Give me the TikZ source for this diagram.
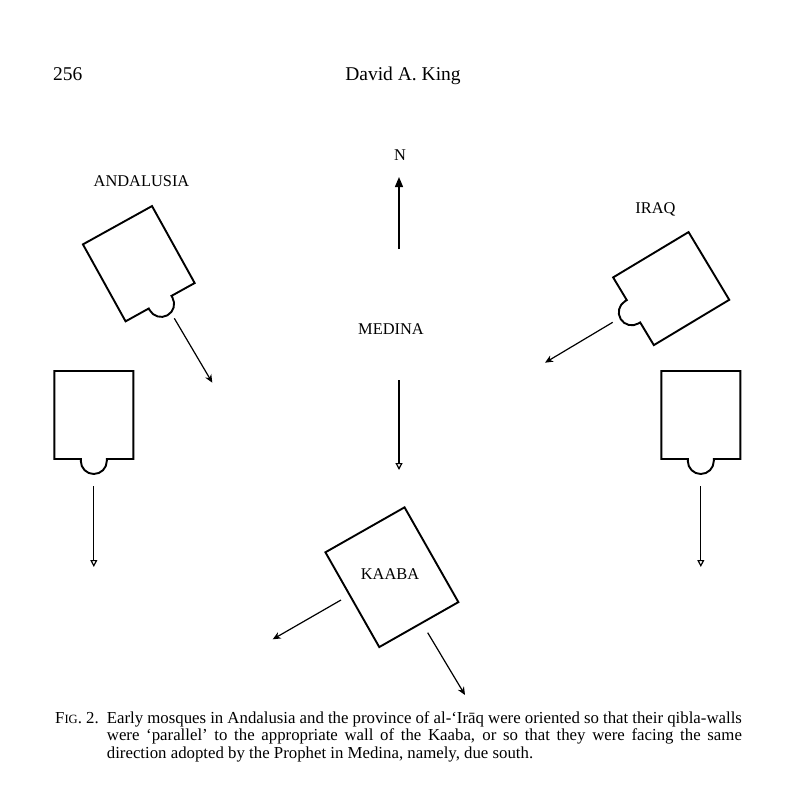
\documentclass[tikz,border=0pt]{standalone}
\usepackage{fontspec}
\setmainfont{Liberation Serif}
\usetikzlibrary{arrows.meta}

\tikzset{
  mosque/.pic={
    \draw[wall] (-39.5,-44) -- (39.5,-44) -- (39.5,44) -- (13,44) -- (13,46)
      arc (0:180:13) -- (-13,44) -- (-39.5,44) -- cycle;
  }
}

\begin{document}
\begin{tikzpicture}[x=1pt,y=-1pt,
    wall/.style={line width=1.9pt,line join=miter},
    lbl/.style={font=\fontsize{16.4}{18}\selectfont,inner sep=0pt},
    north/.style={line width=1.3pt,-{Triangle[length=10pt,width=8pt]}},
    south/.style={line width=1.2pt,-{Triangle[open,length=7pt,width=7pt]}},
    qibla/.style={line width=1.2pt,-{Stealth[length=8pt,width=7pt,inset=2.5pt]}}]
  \useasboundingbox (0,0) rectangle (798,785);

  % running head
  \node[anchor=base west,inner sep=0pt,font=\fontsize{19.5}{22}\selectfont] (page) at (53,80) {256};
  \node[anchor=base,inner sep=0pt,font=\fontsize{19.5}{22}\selectfont] (author) at (403,80) {David A. King};

  % Medina and the north arrow
  \node[lbl] (n) at (400,155) {N};
  \node[lbl] (medina) at (391,329) {MEDINA};
  \coordinate (n0) at (399,249);
  \coordinate (n1) at (399,177);
  \draw[north] (n0) -- (n1);
  \coordinate (m0) at (399,380);
  \coordinate (m1) at (399,470);
  \draw[south] (m0) -- (m1);

  % Andalusia and Iraq, tilted to the walls of the Kaaba
  \node[lbl] (andalusia) at (141.5,181) {ANDALUSIA};
  \pic[rotate=29] at (138.8,263.7) {mosque};
  \coordinate (a0) at (174.3,318.3);
  \coordinate (a1) at (212.3,382.7);
  \draw[qibla] (a0) -- (a1);

  \node[lbl] (iraq) at (655.5,209.3) {IRAQ};
  \pic[rotate=-59] at (671.2,288.6) {mosque};
  \coordinate (i0) at (612.7,322.3);
  \coordinate (i1) at (545,362.7);
  \draw[qibla] (i0) -- (i1);

  % the same, facing due south
  \foreach \name/\x in {west/93.8,east/700.8} {
    \pic at (\x,415) {mosque};
    \coordinate (\name0) at (\x,486);
    \coordinate (\name1) at (\x,567);
    \draw[south] (\name0) -- (\name1);
  }

  % Kaaba
  \node[wall,draw,minimum width=91pt,minimum height=109pt,rotate=29.6] (kaaba) at (391.9,577.2) {};
  \node[lbl] (kaabalbl) at (390,574) {KAABA};
  \coordinate (k0) at (341,600);
  \coordinate (k1) at (272.7,639.3);
  \draw[qibla] (k0) -- (k1);
  \coordinate (k2) at (427.7,632.7);
  \coordinate (k3) at (465,695);
  \draw[qibla] (k2) -- (k3);

  % caption
  \node[anchor=base west,inner sep=0pt,font=\fontsize{16.8}{17.5}\selectfont] (fig) at (55,723.3) {F{\fontsize{12.6}{17.5}\selectfont IG}. 2.};
  \node[anchor=north west,inner sep=0pt,text width=635pt,align=justify,font=\fontsize{16.8}{17.5}\selectfont] (capt) at (106.7,711) {Early mosques in Andalusia and the province of al-‘Irāq were oriented so that their qibla-walls\linebreak were ‘parallel’ to the appropriate wall of the Kaaba, or so that they were facing the same\linebreak direction adopted by the Prophet in Medina, namely, due south.};
\end{tikzpicture}
\end{document}
